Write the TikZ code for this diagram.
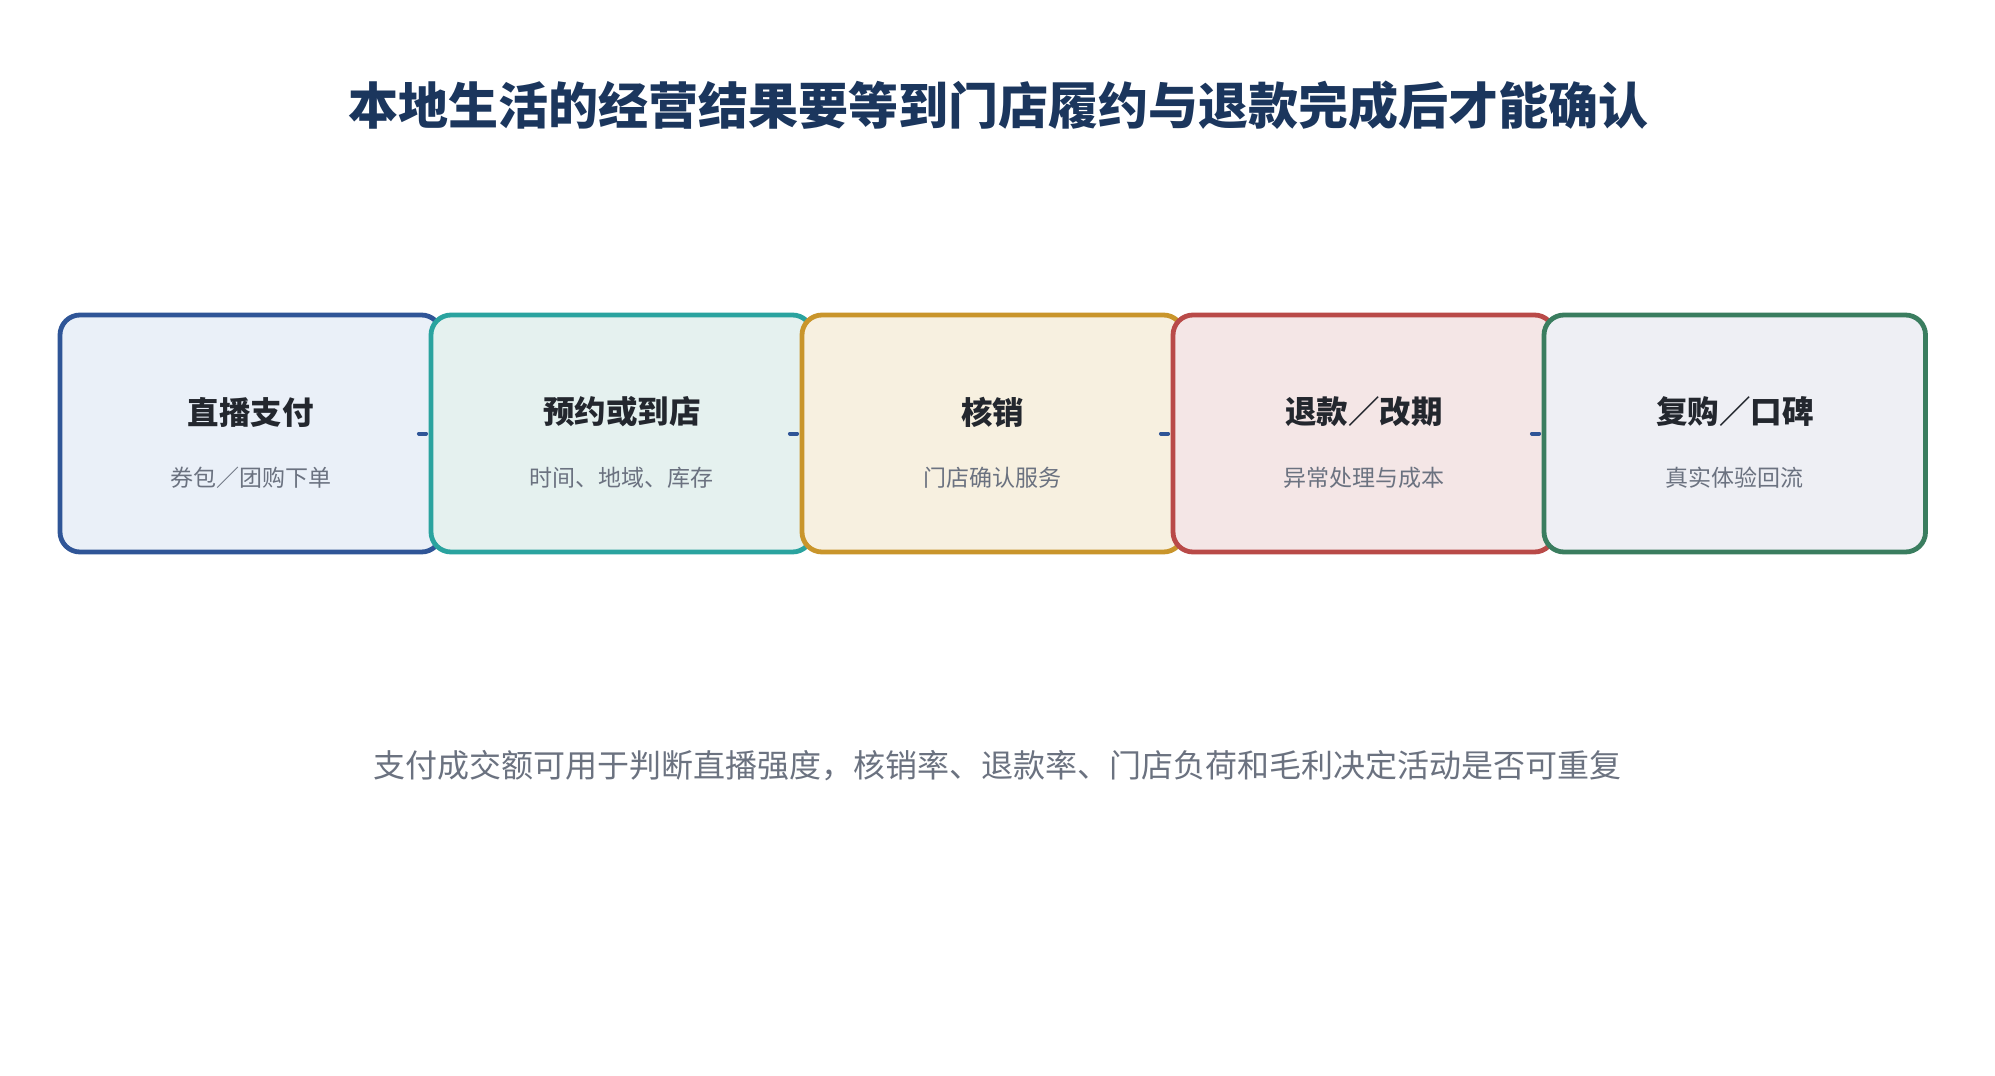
\documentclass[tikz,border=0pt]{standalone}
\usepackage{fontspec}
\setmainfont{Noto Sans CJK SC}
\definecolor{titlec}{HTML}{1B365D}
\definecolor{headc}{HTML}{23272E}
\definecolor{subc}{HTML}{6B7280}
\definecolor{bA}{HTML}{2F5597}\definecolor{fA}{HTML}{EAF0F8}
\definecolor{bB}{HTML}{2AA39F}\definecolor{fB}{HTML}{E5F1EF}
\definecolor{bC}{HTML}{C9952B}\definecolor{fC}{HTML}{F7F0E0}
\definecolor{bD}{HTML}{B94A48}\definecolor{fD}{HTML}{F4E6E6}
\definecolor{bE}{HTML}{3A7D5F}\definecolor{fE}{HTML}{EEEFF4}
\tikzset{
  stagebox/.style={draw, rounded corners=20pt, line width=4.8pt, minimum width=381.5pt, minimum height=237pt, inner sep=0pt},
  headtxt/.style={inner sep=0pt, text=headc, font=\fontsize{31.5}{35}\selectfont\bfseries},
  subtxt/.style={inner sep=0pt, text=subc, font=\fontsize{23}{27}\selectfont},
  link/.style={draw=bA, line width=4pt, line cap=round, shorten >=2.5pt},
}
\begin{document}
\begin{tikzpicture}[x=1pt,y=-1pt]
\useasboundingbox (0,0) rectangle (1995,1076);
\fill[white] (0,0) rectangle (1995,1076);
\node[inner sep=0pt, text=titlec, font=\fontsize{50}{56}\selectfont\bfseries] (title) at (998,105) {本地生活的经营结果要等到门店履约与退款完成后才能确认};
\node[stagebox, draw=bA, fill=fA] (b1) at (250.75,433.5) {};
\node[stagebox, draw=bB, fill=fB] (b2) at (621.75,433.5) {};
\node[stagebox, draw=bC, fill=fC] (b3) at (992.75,433.5) {};
\node[stagebox, draw=bD, fill=fD] (b4) at (1363.75,433.5) {};
\node[stagebox, draw=bE, fill=fE] (b5) at (1734.75,433.5) {};
\draw[link] ([xshift=-25pt]b1.east) -- (b2.west);
\draw[link] ([xshift=-25pt]b2.east) -- (b3.west);
\draw[link] ([xshift=-25pt]b3.east) -- (b4.west);
\draw[link] ([xshift=-25pt]b4.east) -- (b5.west);
\node[headtxt] (h1) at ([yshift=21.5pt]b1.center) {直播支付};
\node[subtxt] (s1) at ([yshift=-44pt]b1.center) {券包／团购下单};
\node[headtxt] (h2) at ([yshift=21.5pt]b2.center) {预约或到店};
\node[subtxt] (s2) at ([yshift=-44pt]b2.center) {时间、地域、库存};
\node[headtxt] (h3) at ([yshift=21.5pt]b3.center) {核销};
\node[subtxt] (s3) at ([yshift=-44pt]b3.center) {门店确认服务};
\node[headtxt] (h4) at ([yshift=21.5pt]b4.center) {退款／改期};
\node[subtxt] (s4) at ([yshift=-44pt]b4.center) {异常处理与成本};
\node[headtxt] (h5) at ([yshift=21.5pt]b5.center) {复购／口碑};
\node[subtxt] (s5) at ([yshift=-44pt]b5.center) {真实体验回流};
\node[inner sep=0pt, text=subc, font=\fontsize{32}{36}\selectfont] (note) at (997.5,766) {支付成交额可用于判断直播强度，核销率、退款率、门店负荷和毛利决定活动是否可重复};
\end{tikzpicture}
\end{document}
